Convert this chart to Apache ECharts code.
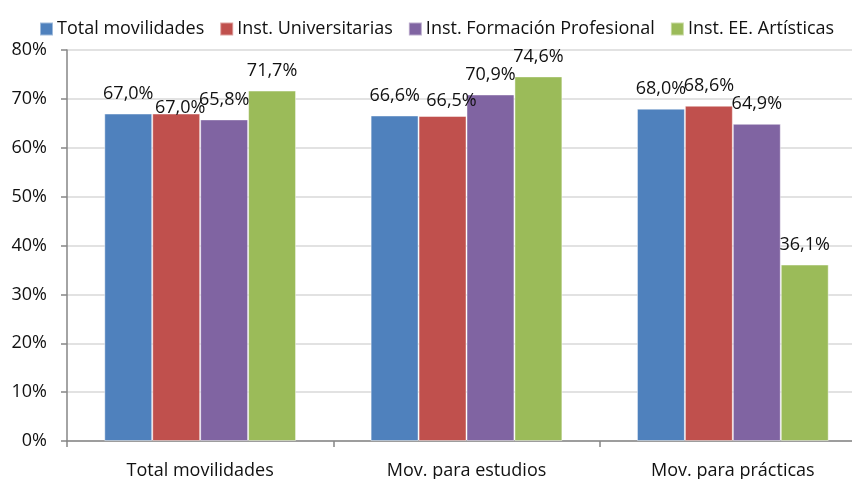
<!DOCTYPE html>
<html>
<head>
<meta charset="utf-8">
<script src="https://cdn.jsdelivr.net/npm/echarts@6/dist/echarts.min.js"></script>
<style>
  html, body { margin: 0; padding: 0; background: #fff; }
  #chart { width: 852px; height: 479px; }
</style>
</head>
<body>
<div id="chart"></div>
<script>
const echarts = window.echarts

// categorías del eje x
const categories = ['Total movilidades', 'Mov. para estudios', 'Mov. para prácticas']

// valores de cada serie (%)
const totalMovilidades = [67.0, 66.6, 68.0]
const instUniversitarias = [67.0, 66.5, 68.6]
const instFormacionProf = [65.8, 70.9, 64.9]
const instArtisticas = [71.7, 74.6, 36.1]

const seriesNames = ['Total movilidades', 'Inst. Universitarias', 'Inst. Formación Profesional', 'Inst. EE. Artísticas']
const seriesColors = ['#4F81BD', '#C0504D', '#8064A2', '#9BBB59']

const FONT = 'Open Sans'
const FSIZE = 18

// etiqueta con formato español (coma decimal)
const fmt = function (v) {
  return v.toFixed(1).replace('.', ',') + '%'
}

const makeSeries = function (name, values, color, idx) {
  return {
    name: name,
    type: 'bar',
    barGap: 0,
    barCategoryGap: '28%',
    data: values.map((v, i) => {
      let item = { value: v }
      // Excel movió a mano algunas etiquetas de la serie roja
      if (idx === 1 && i === 0) item.label = { offset: [4, 14] }
      if (idx === 1 && i === 1) item.label = { offset: [9, 5] }
      return item
    }),
    itemStyle: {
      color: color,
      borderColor: 'rgba(255,255,255,0.45)',
      borderWidth: 1
    },
    label: {
      show: true,
      position: 'top',
      distance: 11,
      color: '#111',
      fontFamily: FONT,
      fontSize: FSIZE,
      formatter: p => fmt(p.value)
    }
  }
}

let myChart = echarts.init(document.getElementById('chart'))
let option = {
  animation: false,
  color: seriesColors,
  legend: {
    top: 15,
    left: 34,
    itemWidth: 13,
    itemHeight: 13,
    itemGap: 15,
    icon: 'rect',
    textStyle: { fontFamily: FONT, fontSize: FSIZE, color: '#111', padding: [0, 0, 0, -1] },
    data: seriesNames
  },
  grid: {
    left: 67,
    width: 799,
    top: 50,
    bottom: 38,
    containLabel: false,
    outerBoundsMode: 'none'
  },
  xAxis: {
    type: 'category',
    data: categories,
    axisLine: { lineStyle: { color: '#868686', width: 1.5 } },
    axisTick: { show: true, length: 6, lineStyle: { color: '#868686', width: 1.5 } },
    axisLabel: { fontFamily: FONT, fontSize: FSIZE, color: '#111', margin: 21 }
  },
  yAxis: {
    type: 'value',
    min: 0,
    max: 80,
    interval: 10,
    axisLine: { show: true, lineStyle: { color: '#868686', width: 1.5 } },
    axisTick: { show: true, length: 6, lineStyle: { color: '#868686', width: 1.5 } },
    axisLabel: { fontFamily: FONT, fontSize: FSIZE, color: '#111', margin: 20, formatter: '{value}%' },
    splitLine: { lineStyle: { color: '#D9D9D9', width: 1.5 } }
  },
  series: [
    makeSeries(seriesNames[0], totalMovilidades, seriesColors[0], 0),
    makeSeries(seriesNames[1], instUniversitarias, seriesColors[1], 1),
    makeSeries(seriesNames[2], instFormacionProf, seriesColors[2], 2),
    makeSeries(seriesNames[3], instArtisticas, seriesColors[3], 3)
  ]
}
myChart.setOption(option)
</script>
</body>
</html>
